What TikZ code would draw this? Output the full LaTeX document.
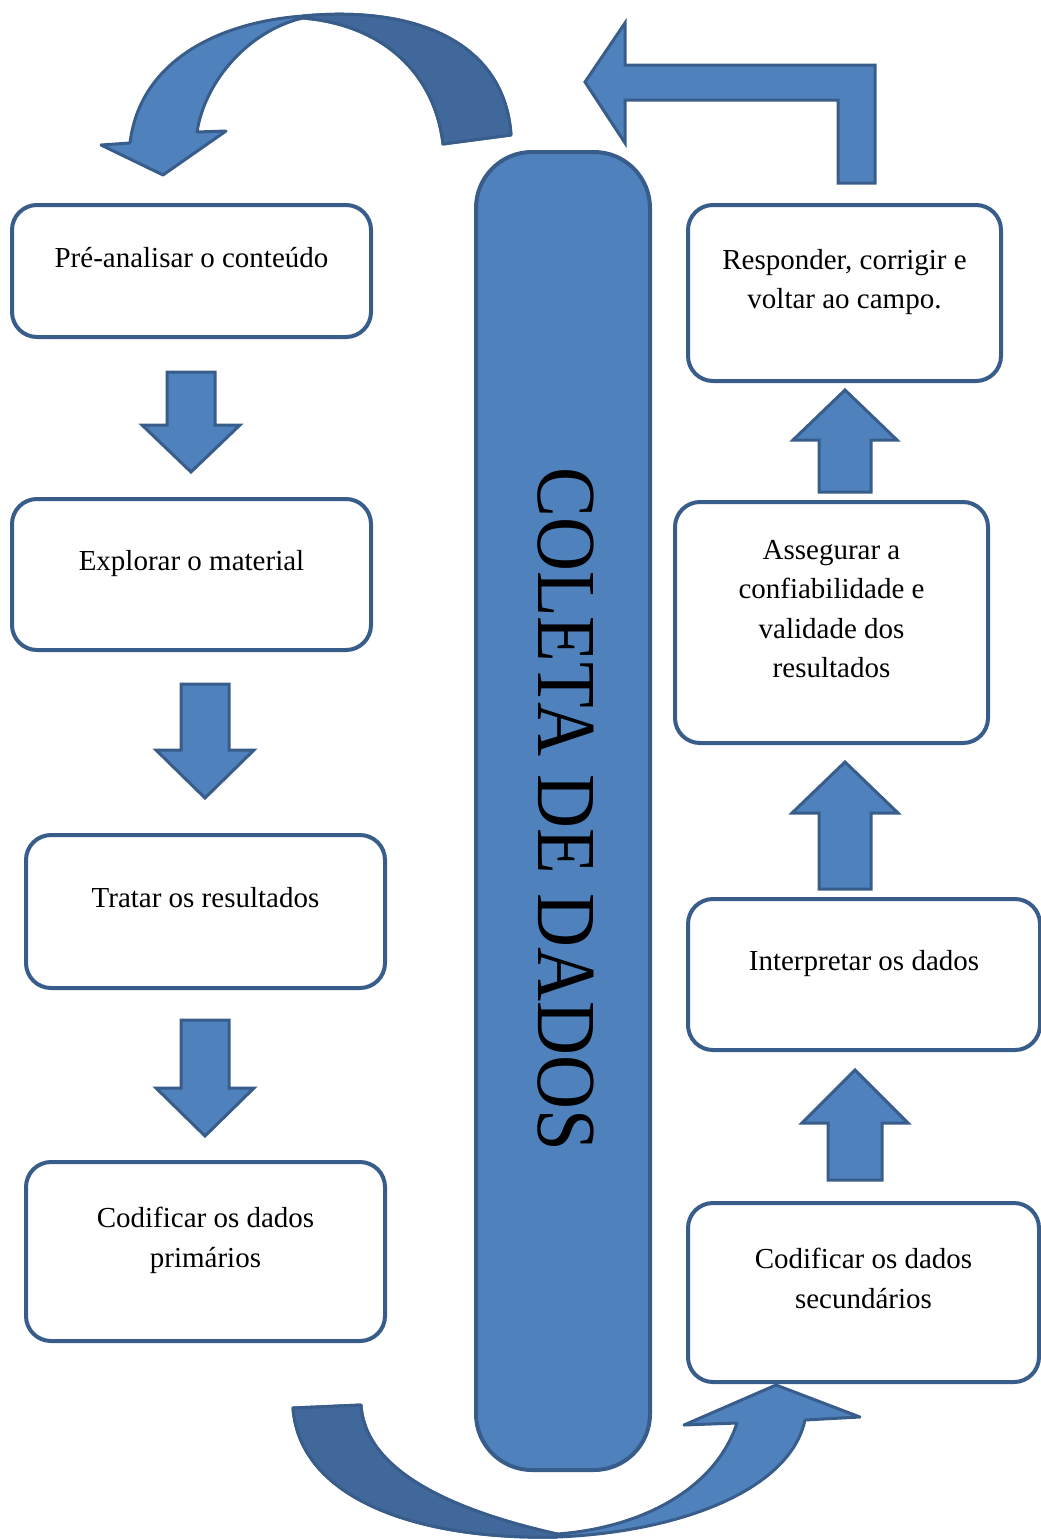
\documentclass[tikz,border=0pt]{standalone}
\usepackage{fontspec}
\setmainfont{Liberation Serif}
\usepackage{xcolor}
\definecolor{fillblue}{HTML}{4F81BD}
\definecolor{darkblue}{HTML}{41689A}
\definecolor{edgeblue}{HTML}{385D8A}
\tikzset{
  stagebox/.style={draw=edgeblue, line width=4pt, fill=white, rounded corners=25pt},
  stagetext/.style={font=\fontsize{29}{39.5}\selectfont, align=center, text height=21pt, text depth=7pt, yshift={11pt-(#1-1)*19.75pt}},
  stagetext/.default=1,
  blockarrow/.style={draw=edgeblue, line width=3pt, fill=fillblue, line join=miter},
  curvearrow/.style={draw=edgeblue, line width=3pt, fill=fillblue, line join=round},
  backside/.style={curvearrow, fill=darkblue},
}
\begin{document}
\begin{tikzpicture}[x=1pt, y=-1pt]
    \useasboundingbox (0,0) rectangle (1041,1539);

    % central column
    \node[draw=edgeblue, line width=4pt, fill=fillblue, rounded corners=56pt, minimum width=174pt, minimum height=1318pt] (pillar) at (563,811) {};
    \node[rotate=-90, font=\fontsize{84}{84}\selectfont] (coleta) at (566,809) {\scalebox{0.89}[1]{COLETA DE DADOS}};

    % left column
    \node[stagebox, minimum width=359pt, minimum height=132pt] (pre) at (191.5,271) {};
    \node[stagetext] (pretxt) at (pre.center) {Pré-analisar o conteúdo};

    \node[stagebox, minimum width=359pt, minimum height=151pt] (expl) at (191.5,574.5) {};
    \node[stagetext] (expltxt) at (expl.center) {Explorar o material};

    \node[stagebox, minimum width=359pt, minimum height=153pt] (trat) at (205.5,911.5) {};
    \node[stagetext] (trattxt) at (trat.center) {Tratar os resultados};

    \node[stagebox, minimum width=359pt, minimum height=179pt] (codp) at (205.5,1251.5) {};
    \node[stagetext=2] (codptxt) at (codp.center) {Codificar os dados\\primários};

    % right column
    \node[stagebox, minimum width=313pt, minimum height=176pt] (resp) at (844.5,293) {};
    \node[stagetext=2] (resptxt) at (resp.center) {Responder, corrigir e\\voltar ao campo.};

    \node[stagebox, minimum width=313pt, minimum height=241pt] (aseg) at (831.5,622.5) {};
    \node[stagetext=4] (asegtxt) at (aseg.center) {Assegurar a\\confiabilidade e\\validade dos\\resultados};

    \node[stagebox, minimum width=352pt, minimum height=151pt] (interp) at (864,974.5) {};
    \node[stagetext] (interptxt) at (interp.center) {Interpretar os dados};

    \node[stagebox, minimum width=351pt, minimum height=179pt] (cods) at (863.5,1292.5) {};
    \node[stagetext=2] (codstxt) at (cods.center) {Codificar os dados\\secundários};

    % block arrows down the left side
    \foreach \cx/\ya/\yb/\yc in {191/372/425/472, 205/684/750/798, 205/1020/1088/1136}
        \draw[blockarrow] ({\cx-24},\ya) -- ({\cx+24},\ya) -- ({\cx+24},\yb) -- ({\cx+49},\yb) -- (\cx,\yc) -- ({\cx-49},\yb) -- ({\cx-24},\yb) -- cycle;

    % block arrows up the right side
    \foreach \cx/\ya/\yb/\yc/\hs/\hh in {845/492/440/390/26/52, 845/889/813/762/26/53, 855/1180/1123/1070/27/53}
        \draw[blockarrow] ({\cx-\hs},\ya) -- ({\cx+\hs},\ya) -- ({\cx+\hs},\yb) -- ({\cx+\hh},\yb) -- (\cx,\yc) -- ({\cx-\hh},\yb) -- ({\cx-\hs},\yb) -- cycle;

    % bent arrow back over the column
    \draw[blockarrow] (585,82) -- (625,23) -- (625,65) -- (875,65) -- (875,183) -- (838,183) -- (838,100) -- (625,100) -- (625,143) -- cycle;

    % curved arrow at the top
    \draw[curvearrow] (130,143) .. controls (140,60) and (220,22) .. (303,16)
        .. controls (420,5) and (505,45) .. (511,135) -- (443,144)
        .. controls (435,75) and (385,25) .. (303,18)
        .. controls (250,30) and (205,80) .. (197,132)
        -- (226,131) -- (163,175) -- (101,145) -- cycle;
    \draw[backside] (303,16) .. controls (420,5) and (505,45) .. (511,135) -- (443,144)
        .. controls (435,75) and (385,25) .. (303,18) -- cycle;

    % curved arrow at the bottom
    \draw[curvearrow] (293,1408) .. controls (300,1500) and (420,1540) .. (557,1537)
        .. controls (680,1532) and (790,1490) .. (805,1420)
        -- (860,1417) -- (776,1385) -- (684,1425) -- (737,1423)
        .. controls (715,1490) and (640,1528) .. (557,1534)
        .. controls (450,1510) and (365,1470) .. (361,1405) -- cycle;
    \draw[backside] (293,1408) .. controls (300,1500) and (420,1540) .. (557,1537)
        -- (557,1534) .. controls (450,1510) and (365,1470) .. (361,1405) -- cycle;

\end{tikzpicture}
\end{document}
